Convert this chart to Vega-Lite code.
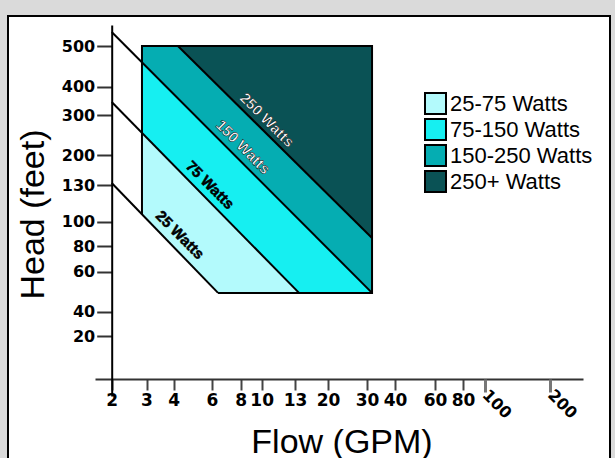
{
  "$schema": "https://vega.github.io/schema/vega-lite/v6.json",
  "width": 602,
  "height": 450,
  "autosize": {"type": "none"},
  "padding": {"left": 8, "top": 16, "right": 5, "bottom": 0},
  "background": "#dadada",
  "config": {"view": {"stroke": "#000000", "strokeWidth": 2, "fill": "#ffffff"}},
  "resolve": {"axis": {"x": "independent"}},
  "layer": [
    {
      "data": {"values": [
        {"band": "250+ Watts", "flow": 4.22, "head": 500, "head2": 500},
        {"band": "250+ Watts", "flow": 31.8, "head": 500, "head2": 86.6},
        {"band": "150-250 Watts", "flow": 2.87, "head": 500, "head2": 459.7},
        {"band": "150-250 Watts", "flow": 4.22, "head": 500, "head2": 358.3},
        {"band": "150-250 Watts", "flow": 31.8, "head": 86.6, "head2": 49.4},
        {"band": "75-150 Watts", "flow": 2.87, "head": 459.7, "head2": 255.3},
        {"band": "75-150 Watts", "flow": 13.85, "head": 101.5, "head2": 49.4},
        {"band": "75-150 Watts", "flow": 31.8, "head": 49.4, "head2": 49.4},
        {"band": "25-75 Watts", "flow": 2.87, "head": 255.3, "head2": 106.0},
        {"band": "25-75 Watts", "flow": 6.42, "head": 109.2, "head2": 49.4},
        {"band": "25-75 Watts", "flow": 13.85, "head": 49.4, "head2": 49.4}
      ]},
      "mark": {"type": "area", "opacity": 1, "orient": "vertical"},
      "encoding": {
        "x": {
          "field": "flow", "type": "quantitative",
          "scale": {
            "type": "linear", "nice": false, "zero": false,
            "domain": [1.75, 2, 3, 4, 6, 8, 10, 13, 20, 30, 40, 60, 80, 100, 200, 250],
            "range": [87, 103.7, 138.5, 165.7, 204, 232.7, 253.7, 287, 320, 359, 387, 427, 455, 476.5, 542, 575]
          },
          "axis": {
            "orient": "bottom", "offset": -87,
            "values": [2, 3, 4, 6, 8, 10, 13, 20, 30, 40, 60, 80],
            "grid": false, "labelOverlap": false, "labelBound": false, "labelFlush": false,
            "domainColor": "#333333", "domainWidth": 2,
            "tickColor": "#444444", "tickWidth": 2, "tickSize": 11,
            "labelFont": "DejaVu Sans", "labelFontWeight": "bold", "labelFontSize": 17,
            "labelColor": "#000000", "labelPadding": 2, "labelAngle": 0,
            "title": "Flow (GPM)", "titleFont": "Liberation Sans", "titleFontSize": 34,
            "titleFontWeight": "normal", "titleColor": "#000000",
            "titleX": 333.5, "titleY": 73, "titleAlign": "center", "titleBaseline": "alphabetic"
          }
        },
        "y": {
          "field": "head", "type": "quantitative",
          "scale": {
            "type": "linear", "nice": false, "zero": false,
            "domain": [-10, 0, 20, 40, 60, 80, 100, 130, 200, 300, 400, 500, 560],
            "range": [380, 363, 320, 295.7, 255.7, 230, 205.7, 169, 139, 99, 70.7, 30, 9]
          },
          "axis": {
            "orient": "left", "offset": -103.7,
            "values": [20, 40, 60, 80, 100, 130, 200, 300, 400, 500],
            "grid": false, "labelOverlap": false, "labelBound": false, "labelFlush": false,
            "domainColor": "#000000", "domainWidth": 2,
            "tickColor": "#333333", "tickWidth": 2, "tickSize": 15,
            "labelFont": "DejaVu Sans", "labelFontWeight": "bold", "labelFontSize": 16,
            "labelColor": "#000000", "labelPadding": 2,
            "title": "Head (feet)", "titleFont": "Liberation Sans", "titleFontSize": 34,
            "titleFontWeight": "normal", "titleColor": "#000000",
            "titleAngle": -90, "titleX": -68.7, "titleY": 198,
            "titleAlign": "center", "titleBaseline": "alphabetic"
          }
        },
        "y2": {"field": "head2"},
        "color": {
          "field": "band", "type": "nominal",
          "scale": {
            "domain": ["25-75 Watts", "75-150 Watts", "150-250 Watts", "250+ Watts"],
            "range": ["#b3fafc", "#16eff1", "#05adb2", "#0a5255"]
          },
          "legend": {
            "orient": "none", "legendX": 416, "legendY": 76, "title": null,
            "symbolType": "square", "symbolSize": 441, "symbolStrokeColor": "#000000",
            "symbolStrokeWidth": 2, "symbolOpacity": 1,
            "labelFont": "Liberation Sans", "labelFontSize": 22, "labelColor": "#000000",
            "labelOffset": 3, "rowPadding": -11, "padding": 0, "labelLimit": 300
          }
        }
      }
    },
    {
      "data": {"values": [
        {"id": "A", "seq": 0, "flow": 2, "head": 540},
        {"id": "A", "seq": 1, "flow": 31.8, "head": 49.4},
        {"id": "B", "seq": 0, "flow": 2, "head": 345.9},
        {"id": "B", "seq": 1, "flow": 13.85, "head": 49.4},
        {"id": "C", "seq": 0, "flow": 2, "head": 134.7},
        {"id": "C", "seq": 1, "flow": 6.42, "head": 49.4},
        {"id": "D", "seq": 0, "flow": 4.22, "head": 500},
        {"id": "D", "seq": 1, "flow": 31.8, "head": 86.6},
        {"id": "box", "seq": 0, "flow": 2.87, "head": 106.0},
        {"id": "box", "seq": 1, "flow": 2.87, "head": 500},
        {"id": "box", "seq": 2, "flow": 31.8, "head": 500},
        {"id": "box", "seq": 3, "flow": 31.8, "head": 49.4},
        {"id": "box", "seq": 4, "flow": 6.42, "head": 49.4}
      ]},
      "mark": {"type": "line", "color": "#000000", "strokeWidth": 2},
      "encoding": {
        "x": {
          "field": "flow", "type": "quantitative",
          "axis": {
            "orient": "bottom", "offset": -87, "values": [100, 200],
            "domain": false, "grid": false, "labelOverlap": false, "labelBound": false, "labelFlush": false,
            "tickColor": "#777777", "tickWidth": 3, "tickSize": 13,
            "labelFont": "DejaVu Sans", "labelFontWeight": "bold", "labelFontSize": 16,
            "labelColor": "#000000", "labelPadding": 0, "labelAngle": 45,
            "labelAlign": "left", "labelBaseline": "middle", "title": null
          }
        },
        "y": {"field": "head", "type": "quantitative"},
        "detail": {"field": "id"},
        "order": {"field": "seq"}
      }
    },
    {
      "data": {"values": [
        {"label": "250 Watts", "flow": 10.48, "head": 287.5},
        {"label": "150 Watts", "flow": 8.22, "head": 220},
        {"label": "75 Watts", "flow": 5.9, "head": 130},
        {"label": "25 Watts", "flow": 4.33, "head": 89.1}
      ]},
      "mark": {"type": "text", "angle": 45, "align": "center", "baseline": "middle",
               "font": "Liberation Sans", "fontWeight": "bold", "fontSize": 15,
               "stroke": "#000000", "strokeWidth": 0.5},
      "encoding": {
        "x": {"field": "flow", "type": "quantitative", "axis": null},
        "y": {"field": "head", "type": "quantitative"},
        "text": {"field": "label"},
        "color": {
          "condition": {"test": "datum.label == '250 Watts' || datum.label == '150 Watts'", "value": "#ffffff"},
          "value": "#000000"
        }
      }
    }
  ]
}
